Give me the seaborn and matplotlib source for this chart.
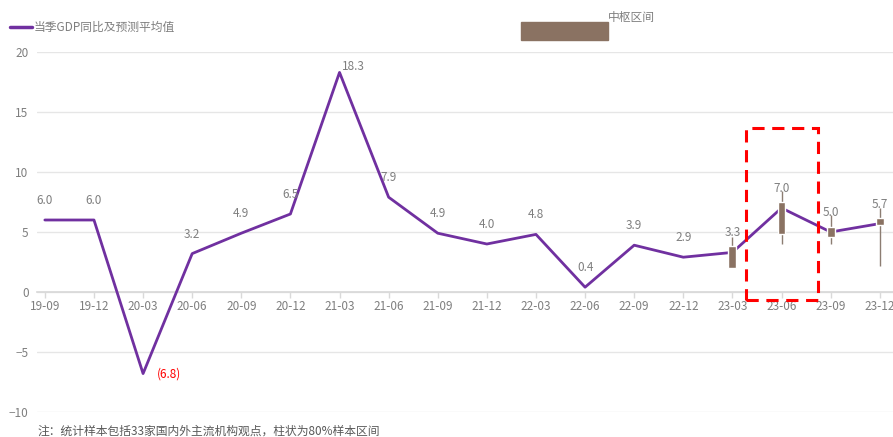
import matplotlib
matplotlib.use("Agg")
import matplotlib.pyplot as plt
import seaborn as sns
import pandas as pd
import numpy as np
from matplotlib.patches import Rectangle
from matplotlib.lines import Line2D

sns.set_theme(style="white")
plt.rcParams['font.family'] = ['Noto Sans CJK SC', 'DejaVu Sans']

# Quarterly real GDP growth (%), actual plus forecast mean
quarters = ["19-09", "19-12", "20-03", "20-06", "20-09", "20-12", "21-03", "21-06", "21-09",
            "21-12", "22-03", "22-06", "22-09", "22-12", "23-03", "23-06", "23-09", "23-12"]
gdp = [6.0, 6.0, -6.8, 3.2, 4.9, 6.5, 18.3, 7.9, 4.9, 4.0, 4.8, 0.4, 3.9, 2.9, 3.3, 7.0, 5.0, 5.7]

# Forecast spread for the 2023 quarters: 80% band and full range
fc_quarters = ["23-03", "23-06", "23-09", "23-12"]
band_low = [2.0, 4.8, 4.6, 5.6]
band_high = [3.8, 7.5, 5.4, 6.2]
range_low = [2.0, 4.0, 4.0, 2.2]
range_high = [4.6, 8.4, 6.4, 7.0]

purple = "#7030A0"
brown = "#8A7262"
gray_txt = "#7F7F7F"
grid_c = "#E6E6E6"

fig = plt.figure(figsize=(8.93, 4.37), dpi=100)
ax = fig.add_axes([37 / 893, 1 - 412 / 437, 1 - 37 / 893, (412 - 52) / 437])

df = pd.DataFrame({"q": np.arange(len(quarters)), "gdp": gdp})
sns.lineplot(data=df, x="q", y="gdp", ax=ax, color=purple, linewidth=2.0, zorder=3)

# forecast candles
pos = {q: i for i, q in enumerate(quarters)}
fx = np.array([pos[q] for q in fc_quarters])
ax.vlines(fx, range_low, range_high, color="#8C7D72", linewidth=1.0, zorder=4)
ax.bar(fx, np.array(band_high) - np.array(band_low), bottom=band_low, width=0.16,
       color=brown, zorder=5)

# value labels
for i, v in enumerate(gdp):
    if v < 0:
        ax.annotate(f"({abs(v):.1f})", (i, v), xytext=(10, 0), textcoords="offset points",
                    ha="left", va="center", color="#FF0000", fontsize=8.5)
    elif i == 6:
        ax.annotate(f"{v:.1f}", (i, v), xytext=(10, 4), textcoords="offset points",
                    ha="center", va="center", color=gray_txt, fontsize=8.5)
    else:
        ax.annotate(f"{v:.1f}", (i, v), xytext=(0, 14), textcoords="offset points",
                    ha="center", va="center", color=gray_txt, fontsize=8.5)

# highlight box around the current-quarter forecast
ax.add_patch(Rectangle((14.28, -0.67), 1.46, 14.34, fill=False, edgecolor="#FF0000",
                       linewidth=2.2, linestyle=(0, (4, 2.5)), zorder=6, clip_on=False))

ax.set_xlim(-0.16, 17.27)
ax.set_ylim(-10, 20)
ax.set_yticks([-10, -5, 0, 5, 10, 15, 20])
ax.set_yticklabels(["\u221210", "\u22125", "0", "5", "10", "15", "20"])
ax.set_xticks(np.arange(len(quarters)))
ax.set_xticklabels(quarters)
ax.set_xlabel("")
ax.set_ylabel("")
ax.yaxis.grid(True, color=grid_c, linewidth=1.0)
for side in ["top", "right", "left"]:
    ax.spines[side].set_visible(False)
ax.spines["bottom"].set_position(("data", 0))
ax.spines["bottom"].set_color("#D9D9D9")
ax.tick_params(axis="x", colors="#D9D9D9", labelcolor=gray_txt, labelsize=8.5,
               direction="out", length=4, width=1, pad=2, bottom=True)
ax.tick_params(axis="y", labelcolor=gray_txt, labelsize=8.5, length=0, pad=6)
ax.set_axisbelow(True)

# legend entries
fig.add_artist(Line2D([10 / 893, 32 / 893], [1 - 27 / 437, 1 - 27 / 437], color=purple,
                      linewidth=2.5, transform=fig.transFigure))
fig.text(34 / 893, 1 - 27 / 437, "当季GDP同比及预测平均值", fontsize=8.5, color=gray_txt,
         va="center", ha="left")
fig.add_artist(Rectangle((521 / 893, 1 - 40 / 437), 87 / 893, 18 / 437, color=brown,
                         transform=fig.transFigure))
fig.text(608 / 893, 1 - 17 / 437, "中枢区间", fontsize=8.5, color=gray_txt,
         va="center", ha="left")

fig.text(37 / 893, 1 - 431 / 437, "注：统计样本包括33家国内外主流机构观点，柱状为80%样本区间",
         fontsize=8.5, color="#595959", va="center", ha="left")

fig.savefig("out.png", dpi=100)
